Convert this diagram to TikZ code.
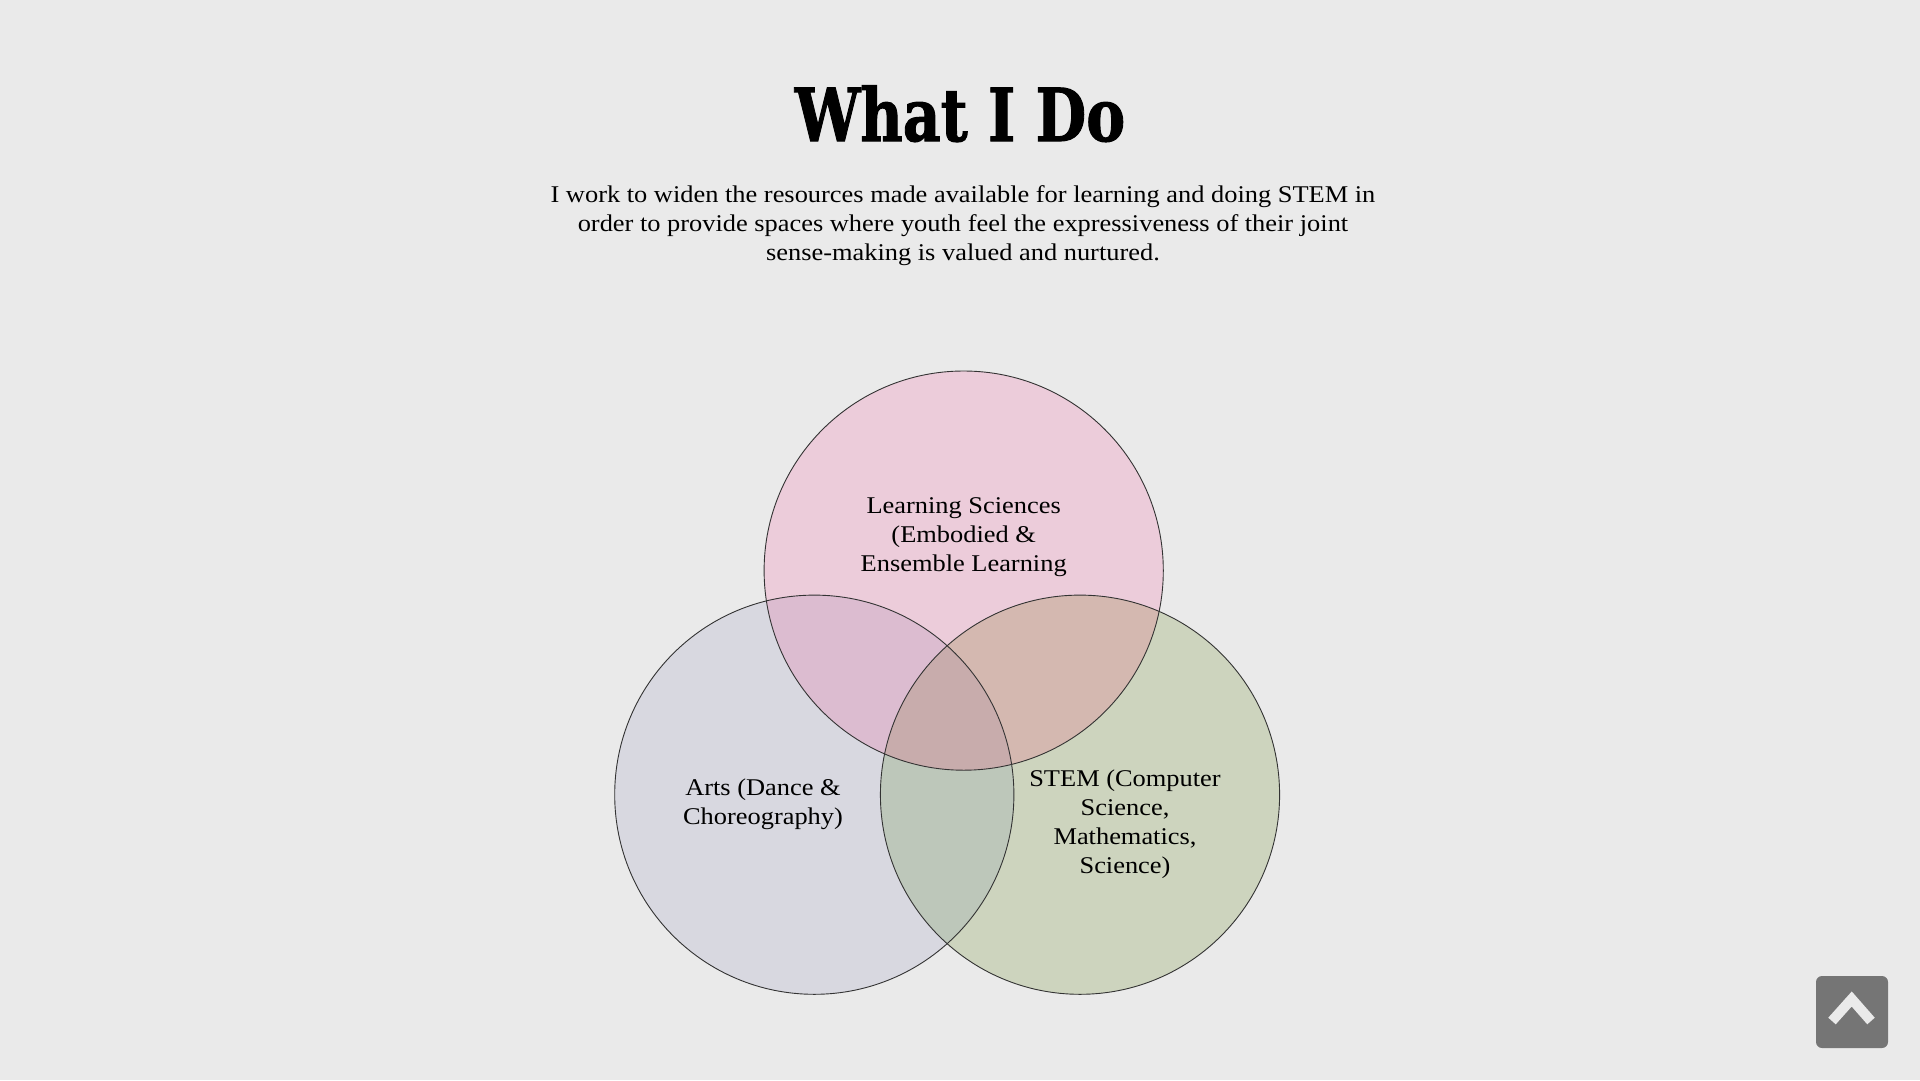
\documentclass[tikz,border=0pt]{standalone}
\usepackage{fontspec}
\setmainfont{Liberation Serif}[FakeStretch=1.1]
\newfontfamily\titlefont{DejaVu Serif}[BoldFeatures={FakeBold=1.5}]
\definecolor{pagebg}{RGB}{234,234,234}
\definecolor{learnc}{RGB}{236,204,218}
\definecolor{artsc}{RGB}{216,216,224}
\definecolor{stemc}{RGB}{205,212,190}
\definecolor{learnarts}{RGB}{220,188,208}
\definecolor{learnstem}{RGB}{212,184,176}
\definecolor{artsstem}{RGB}{189,199,186}
\definecolor{allthree}{RGB}{200,172,172}
\definecolor{btngray}{RGB}{117,117,117}
\tikzset{
  ring/.style={draw=black!80, line width=0.9pt},
  label/.style={font=\fontsize{24}{29}\selectfont, align=center, anchor=base, inner sep=0pt},
}
\begin{document}
\begin{tikzpicture}[x=1pt,y=-1pt]
  \fill[pagebg] (0,0) rectangle (1920,1080);
  \useasboundingbox (0,0) rectangle (1920,1080);

  % heading and intro (multi-line nodes sit on the baseline of their last line)
  \node[anchor=base, inner sep=0pt] (title) at (960,141)
    {\scalebox{0.8}[1]{\titlefont\bfseries\fontsize{73}{80}\selectfont What I Do}};
  \node[label] (intro) at (963,260)
    {I work to widen the resources made available for learning and doing STEM in\\
     order to provide spaces where youth feel the expressiveness of their joint\\
     sense-making is valued and nurtured.};

  % Venn circles
  \def\rad{199.6}
  \coordinate (T) at (963.7,570.6);
  \coordinate (L) at (814.3,794.7);
  \coordinate (R) at (1080,794.7);

  \fill[learnc] (T) circle (\rad);
  \fill[artsc] (L) circle (\rad);
  \fill[stemc] (R) circle (\rad);
  \begin{scope}
    \clip (L) circle (\rad);
    \fill[artsstem] (R) circle (\rad);
  \end{scope}
  \begin{scope}
    \clip (T) circle (\rad);
    \fill[learnarts] (L) circle (\rad);
    \fill[learnstem] (R) circle (\rad);
    \clip (L) circle (\rad);
    \fill[allthree] (R) circle (\rad);
  \end{scope}
  \draw[ring] (T) circle (\rad);
  \draw[ring] (L) circle (\rad);
  \draw[ring] (R) circle (\rad);

  % circle labels
  \node[label] (learn) at (963.7,571)
    {Learning Sciences\\(Embodied \&\\Ensemble Learning};
  \node[label] (arts) at (763,824)
    {Arts (Dance \&\\Choreography)};
  \node[label] (stem) at (1125,873)
    {STEM (Computer\\Science,\\Mathematics,\\Science)};

  % back-to-top button
  \node[fill=btngray, rounded corners=6pt, minimum size=72pt, inner sep=0pt] (top) at (1852,1012) {};
  \draw[pagebg, line width=10pt, miter limit=10] (1832,1021) -- (1851.7,999) -- (1871,1021);
\end{tikzpicture}
\end{document}
